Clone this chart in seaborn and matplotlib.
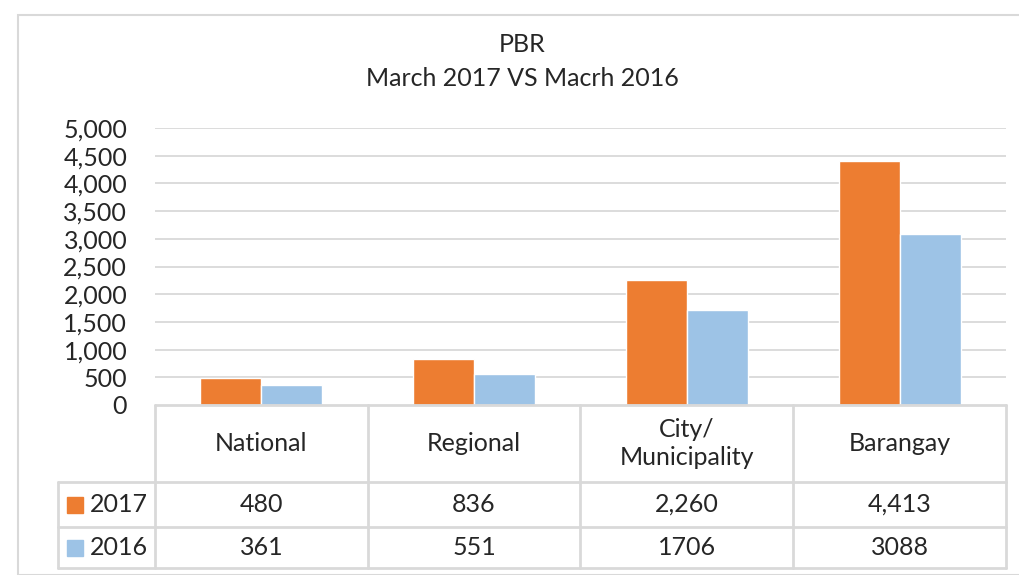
import numpy as np
import pandas as pd
import matplotlib.pyplot as plt
import seaborn as sns
from matplotlib.patches import Rectangle

categories = ['National', 'Regional', 'City/\nMunicipality', 'Barangay']
years = ['2017', '2016']
values_2017 = [480, 836, 2260, 4413]
values_2016 = [361, 551, 1706, 3088]
labels_2017 = [f'{v:,}' for v in values_2017]
labels_2016 = [str(v) for v in values_2016]
yticks = [0, 500, 1000, 1500, 2000, 2500, 3000, 3500, 4000, 4500, 5000]

colors = {'2017': '#ED7D31', '2016': '#9DC3E6'}
grid_c = '#D9D9D9'
fs = 18

sns.set_theme(style='white')
plt.rcParams['font.family'] = ['Lato', 'DejaVu Sans']

df = pd.DataFrame({
    'category': categories * 2,
    'year': ['2017'] * 4 + ['2016'] * 4,
    'value': values_2017 + values_2016,
})

W, H = 1019, 575
fig = plt.figure(figsize=(W / 100, H / 100), dpi=100)

def px_rect(x0, y0, x1, y1):
    return [x0 / W, 1 - y1 / H, (x1 - x0) / W, (y1 - y0) / H]

# chart area border
fig.patches.append(Rectangle((18 / W, 0), 1.2, 1 - 15 / H, transform=fig.transFigure,
                             fill=False, edgecolor='#D9D9D9', linewidth=1.5))

ax = fig.add_axes(px_rect(155, 128, 1006, 405))
sns.barplot(data=df, x='category', y='value', hue='year', palette=colors,
            hue_order=years, width=0.573, gap=0, saturation=1, legend=False, ax=ax)
ax.set_ylim(0, 5000)
ax.set_xlim(-0.5, 3.5)
ax.set_yticks(yticks)
ax.set_yticklabels([f'{t:,}' for t in yticks], fontsize=fs)
ax.tick_params(axis='y', length=0, pad=20)
ax.set_xticks([])
ax.set_xlabel('')
ax.set_ylabel('')
for s in ax.spines.values():
    s.set_visible(False)
for t in yticks[1:]:
    ax.axhline(t, color=grid_c, linewidth=1.3, zorder=0)
ax.set_axisbelow(True)

# data table
left = -0.5 - (155 - 58) / 213
tab = fig.add_axes(px_rect(58, 405, 1006, 568))
tab.set_xlim(left, 3.5)
tab.set_ylim(568, 405)
tab.axis('off')
lc = dict(color=grid_c, linewidth=2, clip_on=False)
tab.plot([-0.5, 3.5], [405, 405], **lc)
for y in [482, 527, 568]:
    tab.plot([left, 3.5], [y, y], **lc)
tab.plot([left, left], [482, 568], **lc)
for i in range(5):
    tab.plot([i - 0.5, i - 0.5], [405, 568], **lc)

for i, cat in enumerate(categories):
    tab.text(i, 443.5, cat, ha='center', va='center', fontsize=fs, linespacing=1.3)
    tab.text(i, 504.5, labels_2017[i], ha='center', va='center', fontsize=fs)
    tab.text(i, 547.5, labels_2016[i], ha='center', va='center', fontsize=fs)

key_w = 16 / 213
for yr, yc in zip(years, [504.5, 547.5]):
    tab.add_patch(Rectangle((left + 9 / 213, yc - 8), key_w, 16, color=colors[yr], clip_on=False))
    tab.text(left + 32 / 213, yc, yr, ha='left', va='center', fontsize=fs)

fig.text(522 / W, 1 - 45 / H, 'PBR', ha='center', va='center', fontsize=fs)
fig.text(522 / W, 1 - 78 / H, 'March 2017 VS Macrh 2016', ha='center', va='center', fontsize=fs)

fig.savefig('out.png', dpi=100)
